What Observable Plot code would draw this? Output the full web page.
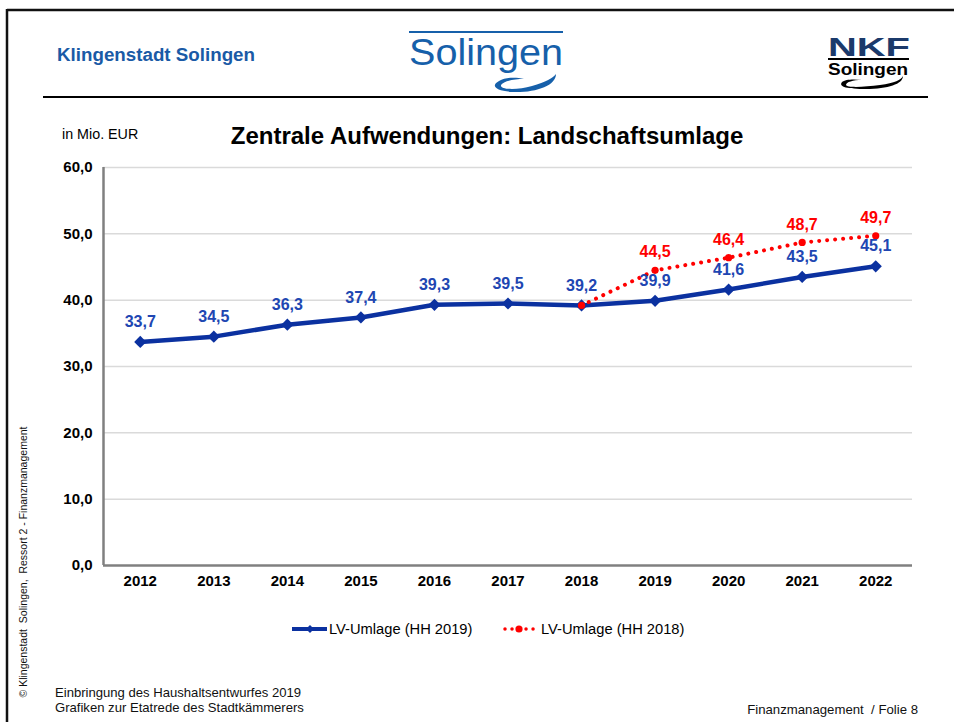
<!DOCTYPE html>
<html>
<head>
<meta charset="utf-8">
<script src="https://cdn.jsdelivr.net/npm/d3@7"></script>
<script src="https://cdn.jsdelivr.net/npm/@observablehq/plot@0.6"></script>
<style>
  html, body { margin: 0; padding: 0; background: #fff; }
  #page { position: relative; width: 954px; height: 722px; overflow: hidden; background: #fff; }
  #page > svg { position: absolute; left: 0; top: 0; }
  #overlay { pointer-events: none; }
</style>
</head>
<body>
<div id="page"></div>
<script>
// ---- data ----
const years = [2012, 2013, 2014, 2015, 2016, 2017, 2018, 2019, 2020, 2021, 2022];
const hh2019 = [33.7, 34.5, 36.3, 37.4, 39.3, 39.5, 39.2, 39.9, 41.6, 43.5, 45.1];
const yearsHH2018 = [2018, 2019, 2020, 2021, 2022];
const hh2018 = [39.2, 44.5, 46.4, 48.7, 49.7];
const yTicks = [0, 10, 20, 30, 40, 50, 60];
const seriesNames = ["LV-Umlage (HH 2019)", "LV-Umlage (HH 2018)"];
const titleText = "Zentrale Aufwendungen: Landschaftsumlage";
const unitText = "in Mio. EUR";

const blue = "#0b31a0";
const blueLabel = "#2046b2";
const red = "#ff0000";
const logoBlue = "#1660aa";
const font = "'Liberation Sans', Arial, Helvetica, sans-serif";
const fmt = d => d.toFixed(1).replace(".", ",");

const blueData = years.map((y, i) => ({year: y, value: hh2019[i]}));
const redData = yearsHH2018.map((y, i) => ({year: y, value: hh2018[i]}));
const xMin = years[0] - 0.5, xMax = years[years.length - 1] + 0.5;

const chart = Plot.plot({
  width: 954,
  height: 722,
  marginLeft: 103,
  marginRight: 42,
  marginTop: 167,
  marginBottom: 157,
  style: {fontFamily: font, background: "transparent", color: "#000", overflow: "visible"},
  x: {domain: [xMin, xMax]},
  y: {domain: [0, 60]},
  marks: [
    Plot.ruleY(yTicks.filter(d => d > 0), {stroke: "#dadada", strokeWidth: 1.5}),
    Plot.ruleY([0], {stroke: "#808080", strokeWidth: 2.5}),
    Plot.ruleX([xMin], {stroke: "#808080", strokeWidth: 2.5}),
    Plot.axisY({ticks: yTicks, tickSize: 0, tickPadding: 11, tickFormat: fmt, fontSize: 15, fontWeight: "bold", label: null}),
    Plot.axisX({ticks: years, tickSize: 0, tickPadding: 10, tickFormat: d => String(d), fontSize: 15, fontWeight: "bold", label: null}),
    Plot.line(blueData, {x: "year", y: "value", stroke: blue, strokeWidth: 4.5}),
    Plot.dot(blueData, {x: "year", y: "value", symbol: "diamond2", r: 5.5, fill: blue, stroke: "none"}),
    Plot.line(redData, {x: "year", y: "value", stroke: red, strokeWidth: 4, strokeDasharray: "0.01 8", strokeLinecap: "round"}),
    Plot.dot(redData, {x: "year", y: "value", r: 3.6, fill: red, stroke: "none"}),
    Plot.text(blueData, {x: "year", y: "value", text: d => fmt(d.value), dy: -20, fill: blueLabel, fontSize: 16, fontWeight: "bold"}),
    Plot.text(redData.filter(d => d.year > 2018), {x: "year", y: "value", text: d => fmt(d.value), dy: -18, fill: red, fontSize: 16, fontWeight: "bold"})
  ]
});
document.getElementById("page").appendChild(chart);

// ---- overlay: page decorations, titles, legend, footer ----
const ov = d3.select("#page").append("svg").attr("id", "overlay")
  .attr("width", 954).attr("height", 722)
  .style("font-family", font);

// page frame
ov.append("line").attr("x1", 7).attr("x2", 954).attr("y1", 10).attr("y2", 10).attr("stroke", "#111").attr("stroke-width", 2.5);
ov.append("line").attr("x1", 7).attr("x2", 7).attr("y1", 9).attr("y2", 722).attr("stroke", "#111").attr("stroke-width", 2.5);
// header separator
ov.append("line").attr("x1", 43).attr("x2", 928).attr("y1", 97).attr("y2", 97).attr("stroke", "#000").attr("stroke-width", 2);

// header left
ov.append("text").attr("x", 57).attr("y", 61).text("Klingenstadt Solingen")
  .attr("fill", "#1a5aa6").attr("font-size", 18).attr("font-weight", "bold")
  .attr("font-family", "'Liberation Sans Narrow', 'Liberation Sans', sans-serif")
  .attr("textLength", 198).attr("lengthAdjust", "spacingAndGlyphs");

// Solingen logo
ov.append("line").attr("x1", 409).attr("x2", 563).attr("y1", 32).attr("y2", 32).attr("stroke", logoBlue).attr("stroke-width", 2.2);
ov.append("text").attr("x", 409).attr("y", 65).text("Solingen")
  .attr("fill", logoBlue).attr("font-size", 36)
  .attr("font-family", "'Liberation Sans Narrow', 'Liberation Sans', sans-serif")
  .attr("textLength", 154).attr("lengthAdjust", "spacingAndGlyphs");
ov.append("path")
  .attr("d", "M556,74 C556,86 535,93 512,92 C496,91 490,86 499,81 C506,77 516,77 524,79 C514,79 503,81 501,85 C500,90 518,90 532,86 C546,82 553,78 556,74 Z")
  .attr("fill", logoBlue);

// NKF logo
ov.append("text").attr("x", 828).attr("y", 56).text("NKF")
  .attr("fill", "#1b3a6b").attr("font-size", 25).attr("font-weight", "bold")
  .attr("textLength", 82).attr("lengthAdjust", "spacingAndGlyphs");
ov.append("line").attr("x1", 828).attr("x2", 909).attr("y1", 59).attr("y2", 59).attr("stroke", "#000").attr("stroke-width", 2);
ov.append("text").attr("x", 828).attr("y", 75).text("Solingen")
  .attr("fill", "#000").attr("font-size", 16).attr("font-weight", "bold")
  .attr("font-family", "'Liberation Sans Narrow', 'Liberation Sans', sans-serif")
  .attr("textLength", 80).attr("lengthAdjust", "spacingAndGlyphs");
ov.append("path")
  .attr("d", "M903,76 C903,84 888,89 866,89 C848,89 838,87 842,82 C845,79 855,79 862,80 C853,80 846,82 846,85 C847,88 865,87 880,85 C895,83 901,80 903,76 Z")
  .attr("fill", "#000");

// chart title and unit
ov.append("text").attr("x", 62).attr("y", 139).text(unitText).attr("font-size", 14.3).attr("fill", "#000");
ov.append("text").attr("x", 487).attr("y", 144).attr("text-anchor", "middle").text(titleText)
  .attr("font-size", 24).attr("font-weight", "bold").attr("fill", "#000");

// legend
const lg = ov.append("g").attr("font-size", 14.7);
lg.append("line").attr("x1", 292).attr("x2", 327).attr("y1", 629).attr("y2", 629).attr("stroke", blue).attr("stroke-width", 4);
lg.append("path").attr("d", "M310,625 L314,629 L310,633 L306,629 Z").attr("fill", blue);
lg.append("text").attr("x", 329).attr("y", 634).text(seriesNames[0]).attr("fill", "#000");
lg.append("line").attr("x1", 505).attr("x2", 537).attr("y1", 629).attr("y2", 629).attr("stroke", red)
  .attr("stroke-width", 3.5).attr("stroke-dasharray", "0.01 7").attr("stroke-linecap", "round");
lg.append("circle").attr("cx", 519).attr("cy", 629).attr("r", 3.6).attr("fill", red);
lg.append("text").attr("x", 541).attr("y", 634).text(seriesNames[1]).attr("fill", "#000");

// footer
ov.append("text").attr("x", 55).attr("y", 697).text("Einbringung des Haushaltsentwurfes 2019").attr("font-size", 13.1).attr("fill", "#111");
ov.append("text").attr("x", 55).attr("y", 712).text("Grafiken zur Etatrede des Stadtkämmerers").attr("font-size", 13.1).attr("fill", "#111");
ov.append("text").attr("x", 918).attr("y", 714).attr("text-anchor", "end").text("Finanzmanagement  / Folie 8")
  .attr("font-size", 13.2).attr("fill", "#111").style("white-space", "pre");
ov.append("text").attr("transform", "translate(27,562) rotate(-90)").attr("text-anchor", "middle")
  .text("© Klingenstadt  Solingen,  Ressort 2 - Finanzmanagement")
  .attr("font-size", 10.5).attr("fill", "#111").style("white-space", "pre");
</script>
</body>
</html>
